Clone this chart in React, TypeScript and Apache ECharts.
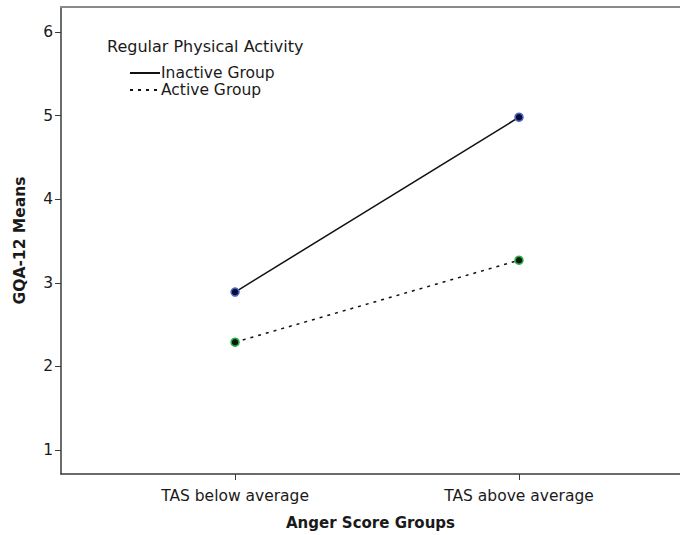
import React, { useEffect, useRef } from "react";
import * as echarts from "echarts";

const categories = ["TAS below average", "TAS above average"];
const seriesNames = ["Inactive Group", "Active Group"];
const inactiveValues = [2.89, 4.98];
const activeValues = [2.29, 3.27];
const yTicks = [1, 2, 3, 4, 5, 6];

const FONT = "DejaVu Sans";
const FS = 15.5;

export default function App() {
  const ref = useRef<HTMLDivElement>(null);
  useEffect(() => {
    if (!ref.current) return;
    const chart = echarts.init(ref.current, null, { renderer: "svg" });
    const axisColor = "#3a3a3a";
    chart.setOption({
      animation: false,
      backgroundColor: "#ffffff",
      textStyle: { fontFamily: FONT },
      title: {
        text: "Regular Physical Activity",
        left: 102,
        top: 33,
        textStyle: { fontFamily: FONT, fontSize: 16, fontWeight: "normal", color: "#1a1a1a" },
      },
      legend: {
        orient: "vertical",
        left: 124,
        top: 60,
        itemWidth: 30,
        itemHeight: 10,
        itemGap: 1,
        data: seriesNames,
        itemStyle: { opacity: 0 },
        textStyle: { fontFamily: FONT, fontSize: FS, color: "#1a1a1a", padding: [0, 0, 0, -4] },
      },
      grid: { left: 61, right: 0, top: 7, bottom: 59 },
      xAxis: [
        {
          type: "value",
          min: -0.613,
          max: 1.567,
          name: "Anger Score Groups",
          nameLocation: "middle",
          nameGap: 41,
          nameTextStyle: { fontFamily: FONT, fontSize: 15, fontWeight: "bold", color: "#1a1a1a" },
          splitLine: { show: false },
          axisLine: { show: true, onZero: false, lineStyle: { color: axisColor, width: 1.5 } },
          axisTick: { show: true, customValues: [0, 1], length: 6, lineStyle: { color: axisColor, width: 1 } },
          axisLabel: {
            customValues: [0, 1],
            formatter: (v: number) => categories[Math.round(v)] ?? "",
            fontFamily: FONT,
            fontSize: FS,
            color: "#1a1a1a",
            margin: 14,
          },
        },
        {
          type: "value",
          position: "top",
          min: -0.613,
          max: 1.567,
          axisLine: { show: true, onZero: false, lineStyle: { color: "#8a8a8a", width: 2 } },
          axisTick: { show: false },
          axisLabel: { show: false },
          splitLine: { show: false },
        },
      ],
      yAxis: {
        type: "value",
        min: 0.714,
        max: 6.298,
        name: "GQA-12 Means",
        nameLocation: "middle",
        nameGap: 33,
        nameTextStyle: { fontFamily: FONT, fontSize: FS, fontWeight: "bold", color: "#1a1a1a" },
        splitLine: { show: false },
        axisLine: { show: true, onZero: false, lineStyle: { color: axisColor, width: 1.5 } },
        axisTick: { show: true, customValues: yTicks, length: 6, lineStyle: { color: axisColor, width: 1 } },
        axisLabel: {
          customValues: yTicks,
          fontFamily: FONT,
          fontSize: FS,
          color: "#1a1a1a",
          margin: 8,
        },
      },
      series: [
        {
          name: seriesNames[0],
          type: "line",
          data: inactiveValues.map((v, i) => [i, v]),
          symbol: "circle",
          symbolSize: 8,
          lineStyle: { color: "#111111", width: 1.5, type: "solid" },
          itemStyle: { color: "#0b0b2e", borderColor: "#4a64c8", borderWidth: 1.5 },
        },
        {
          name: seriesNames[1],
          type: "line",
          data: activeValues.map((v, i) => [i, v]),
          symbol: "circle",
          symbolSize: 8,
          lineStyle: { color: "#111111", width: 1.5, type: [3, 5] },
          itemStyle: { color: "#0b1a0b", borderColor: "#2fb24a", borderWidth: 1.5 },
        },
      ],
    });
    return () => chart.dispose();
  }, []);
  return <div ref={ref} style={{ width: 680, height: 535, position: "absolute", left: 0, top: 0 }} />;
}
